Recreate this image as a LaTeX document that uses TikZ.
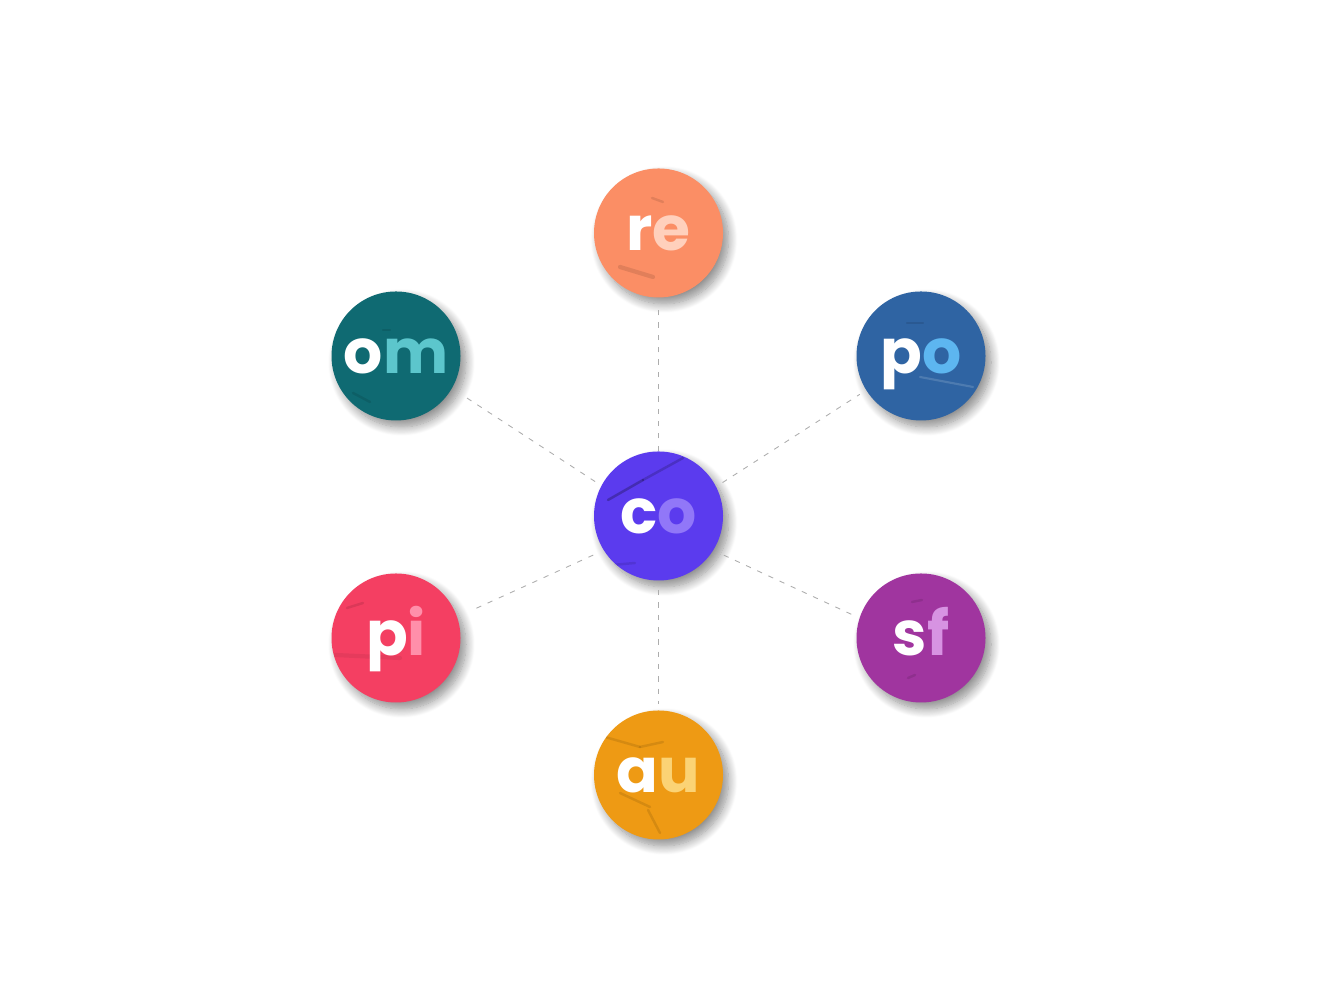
\documentclass[tikz,border=0pt]{standalone}
\usepackage{fontspec}
\setmainfont{Poppins}[BoldFont={Poppins Bold}]
\usetikzlibrary{calc,shadows.blur}

\definecolor{coFill}{HTML}{5B3BEE}
\definecolor{coSoft}{HTML}{9177F8}
\definecolor{reFill}{HTML}{FB8E65}
\definecolor{reSoft}{HTML}{FFD0BC}
\definecolor{poFill}{HTML}{2F64A3}
\definecolor{poSoft}{HTML}{5DB6F0}
\definecolor{sfFill}{HTML}{A0359F}
\definecolor{sfSoft}{HTML}{D793E2}
\definecolor{auFill}{HTML}{EE9A14}
\definecolor{auSoft}{HTML}{FBD375}
\definecolor{piFill}{HTML}{F43F62}
\definecolor{piSoft}{HTML}{FF8FAA}
\definecolor{omFill}{HTML}{0F6A72}
\definecolor{omSoft}{HTML}{5CC6CC}

\tikzset{
    element/.style={circle, minimum size=1.29cm, inner sep=0pt, text=white,
        text height=10pt, text depth=0pt,
        font=\fontsize{17.5}{17.5}\selectfont\bfseries,
        blur shadow={shadow xshift=0.055cm, shadow yshift=-0.065cm, shadow blur steps=12, shadow blur radius=0.09cm, shadow opacity=45}},
    crease/.style={draw=black, opacity=0.1, line width=0.7pt, line cap=round},
    fleck/.style={draw=white, opacity=0.15, line width=0.6pt, line cap=round},
    link/.style={draw=black!32, line width=0.25pt, dash pattern=on 1.5pt off 2pt}
}

\newcommand{\creaseline}[3][crease]{\draw[#1] ($(path picture bounding box.center)+(#2)$) -- ($(path picture bounding box.center)+(#3)$);}

\begin{document}
\begin{tikzpicture}
    \useasboundingbox (0,0) rectangle (13.34,10);

    %nodes
    \node[element, fill=coFill, path picture={
        \creaseline[crease, opacity=0.25]{-0.505,0.16}{-0.155,0.36}
        \creaseline[crease, opacity=0.18]{-0.155,0.36}{0.245,0.58}
        \creaseline{-0.465,-0.49}{-0.235,-0.47}}] (co) at (6.585,4.84) {c\textcolor{coSoft}{o}};
    \node[element, fill=reFill, path picture={
        \creaseline[crease, line width=1.2pt]{-0.385,-0.34}{-0.055,-0.44}
        \creaseline{-0.065,0.35}{0.045,0.31}}] (re) at (6.585,7.67) {r\textcolor{reSoft}{e}};
    \node[element, fill=poFill, path picture={
        \creaseline[fleck]{-0.01,-0.21}{0.52,-0.31}
        \creaseline{-0.14,0.33}{0.02,0.33}}] (po) at (9.21,6.44) {p\textcolor{poSoft}{o}};
    \node[element, fill=sfFill, path picture={
        \creaseline{-0.09,0.36}{0.01,0.38}
        \creaseline{-0.13,-0.40}{-0.06,-0.37}}] (sf) at (9.21,3.62) {s\textcolor{sfSoft}{f}};
    \node[element, fill=auFill, path picture={
        \creaseline{-0.105,-0.35}{0.015,-0.58}
        \creaseline{-0.385,-0.18}{-0.085,-0.32}
        \creaseline{-0.535,0.38}{-0.185,0.28}
        \creaseline{-0.185,0.28}{0.045,0.33}}] (au) at (6.585,2.25) {a\textcolor{auSoft}{u}};
    \node[element, fill=piFill, path picture={
        \creaseline{-0.49,0.30}{-0.33,0.35}
        \creaseline[crease, line width=1.2pt, opacity=0.06]{-0.61,-0.17}{0.04,-0.20}}] (pi) at (3.96,3.62) {p\textcolor{piSoft}{i}};
    \node[element, fill=omFill, path picture={
        \creaseline{-0.43,-0.37}{-0.26,-0.46}
        \creaseline{-0.13,0.26}{-0.06,0.26}}] (om) at (3.96,6.44) {o\textcolor{omSoft}{m}};

    %edges
    \draw[link, shorten >=0.07cm] (co.90) -- (re.-90);
    \draw[link, shorten <=0.07cm, shorten >=0.07cm] (co.27) -- (po.212.6);
    \draw[link, shorten <=0.11cm, shorten >=0.02cm] (co.-32) -- (sf.162.6);
    \draw[link, shorten <=0.09cm, shorten >=0.06cm] (co.-90) -- (au.90);
    \draw[link, shorten <=0.11cm, shorten >=0.155cm] (co.212) -- (pi.19.6);
    \draw[link, shorten <=0.07cm, shorten >=0.155cm] (co.152.5) -- (om.-30.7);
\end{tikzpicture}
\end{document}
